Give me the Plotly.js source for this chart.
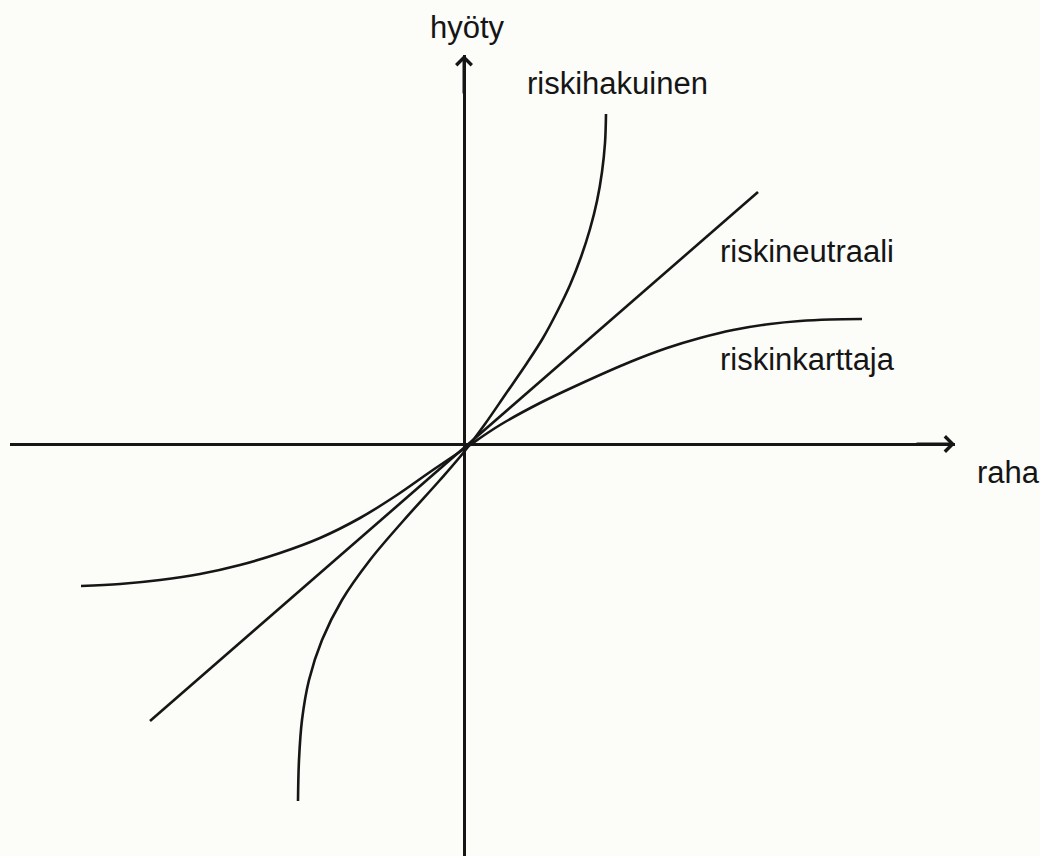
<!DOCTYPE html>
<html>
<head>
<meta charset="utf-8">
<script src="https://cdn.plot.ly/plotly-3.0.1.min.js"></script>
<style>
  html, body { margin: 0; padding: 0; background: #fcfcf9; }
  #chart { width: 1040px; height: 856px; }
</style>
</head>
<body>
<div id="chart"></div>
<script>
// Axis titles
const xTitle = "raha";
const yTitle = "hyöty";

// Curve names
const seriesNames = ["riskihakuinen", "riskineutraali", "riskinkarttaja"];

// riskihakuinen (risk seeking)
const seekX = [-1.66, -1.65, -1.62, -1.55, -1.42, -1.22, -0.94, -0.60, -0.24, 0.00, 0.21, 0.41, 0.63, 0.79, 0.93, 1.06, 1.17, 1.26, 1.33, 1.38, 1.41, 1.42];
const seekY = [-3.57, -3.16, -2.76, -2.36, -1.96, -1.56, -1.16, -0.76, -0.36, -0.08, 0.20, 0.49, 0.81, 1.06, 1.32, 1.59, 1.87, 2.15, 2.43, 2.72, 3.01, 3.30];

// riskineutraali (risk neutral)
const neutX = [-3.14, 2.94];
const neutY = [-2.77, 2.52];

// riskinkarttaja (risk averse)
const averX = [-3.83, -3.44, -3.04, -2.64, -2.24, -1.84, -1.44, -1.04, -0.67, -0.34, 0.00, 0.36, 0.76, 1.16, 1.66, 2.03, 2.36, 2.69, 3.06, 3.36, 3.66, 3.98];
const averY = [-1.42, -1.40, -1.36, -1.30, -1.21, -1.09, -0.94, -0.74, -0.51, -0.28, -0.05, 0.19, 0.41, 0.60, 0.82, 0.96, 1.06, 1.14, 1.20, 1.23, 1.245, 1.25];

// Axis extents
const xRange = [-4.54, 4.91];
const yRange = [-4.12, 3.89];

const ink = "#161616";
const lineStyle = { color: ink, width: 2.6, shape: "spline", smoothing: 1 };

const traces = [
  { x: seekX, y: seekY, name: seriesNames[0], mode: "lines", line: lineStyle, hoverinfo: "skip" },
  { x: neutX, y: neutY, name: seriesNames[1], mode: "lines", line: { color: ink, width: 2.6 }, hoverinfo: "skip" },
  { x: averX, y: averY, name: seriesNames[2], mode: "lines", line: lineStyle, hoverinfo: "skip" }
];

const font = { family: "Liberation Sans, Arial, sans-serif", size: 31, color: "#151515" };

// label helper: pixel → paper (plot area: x 10..955, y 55..856)
function px2paperX(px) { return (px - 10) / 945; }
function px2paperY(py) { return (856 - py) / 801; }

const labels = [
  { text: yTitle, px: 428, py: 28 },
  { text: seriesNames[0], px: 525, py: 84 },
  { text: seriesNames[1], px: 718, py: 251 },
  { text: seriesNames[2], px: 718, py: 359 },
  { text: xTitle, px: 975, py: 473 }
];

const annotations = labels.map(l => ({
  text: l.text, xref: "paper", yref: "paper",
  x: px2paperX(l.px), y: px2paperY(l.py),
  xanchor: "left", yanchor: "middle", showarrow: false, font: font
}));

// arrowheads at axis ends
annotations.push({
  xref: "x", yref: "y", x: xRange[1], y: 0, text: "", showarrow: true,
  ax: -40, ay: 0, arrowhead: 4, arrowsize: 1, arrowwidth: 3, arrowcolor: ink, standoff: 0
});
annotations.push({
  xref: "x", yref: "y", x: 0, y: yRange[1], text: "", showarrow: true,
  ax: 0, ay: 40, arrowhead: 4, arrowsize: 1, arrowwidth: 3, arrowcolor: ink, standoff: 0
});

const axisCommon = {
  showgrid: false, showticklabels: false, ticks: "", showline: false,
  zeroline: true, zerolinecolor: ink, zerolinewidth: 3, fixedrange: true
};

const layout = {
  width: 1040, height: 856,
  margin: { l: 10, r: 85, t: 55, b: 0, pad: 0 },
  paper_bgcolor: "#fcfcf9", plot_bgcolor: "#fcfcf9",
  showlegend: false,
  xaxis: Object.assign({ range: xRange }, axisCommon),
  yaxis: Object.assign({ range: yRange }, axisCommon),
  annotations: annotations
};

Plotly.newPlot("chart", traces, layout, { displayModeBar: false, staticPlot: true });
</script>
</body>
</html>
